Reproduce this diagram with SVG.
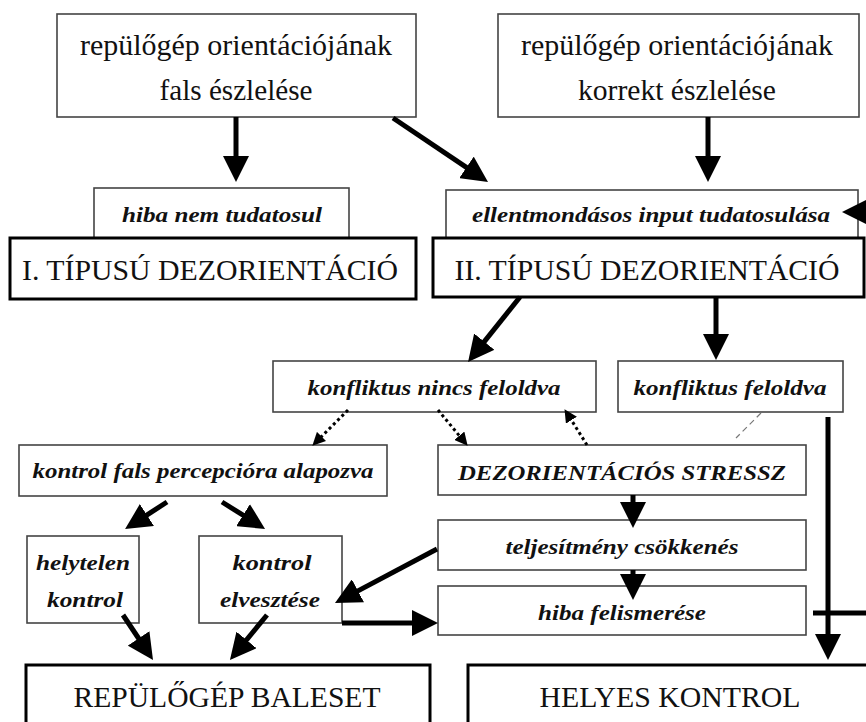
<svg xmlns="http://www.w3.org/2000/svg" width="866" height="722" viewBox="0 0 866 722">
<style>
.bx{fill:#fff;stroke:#444;stroke-width:1.6}
.bk{fill:#fff;stroke:#000;stroke-width:3}
.t{font-family:"Liberation Serif","Times New Roman","DejaVu Serif",serif;fill:#111;text-anchor:middle}
.big{font-size:30px}
.lg{font-size:30px}
.it{font-style:italic;font-weight:bold;font-size:21px}
.a{stroke:#000;stroke-width:5;fill:none;marker-end:url(#ah)}
.d{stroke:#000;stroke-width:3;fill:none;stroke-dasharray:3 3;marker-end:url(#sh)}
</style>
<defs>
<marker id="ah" markerUnits="userSpaceOnUse" markerWidth="26" markerHeight="26" viewBox="0 0 26 26" refX="8" refY="13" orient="auto"><path d="M0,0 L26,13 L0,26 z" fill="#000"/></marker>
<marker id="sh" markerUnits="userSpaceOnUse" markerWidth="13" markerHeight="13" viewBox="0 0 13 13" refX="4" refY="6.5" orient="auto"><path d="M0,0 L13,6.5 L0,13 z" fill="#000"/></marker>
</defs>
<rect width="866" height="722" fill="#fff"/>

<g id="n-fals">
<rect class="bx" x="57" y="14" width="359" height="103"/>
<text class="t big" x="236" y="55" textLength="312" lengthAdjust="spacingAndGlyphs">repülőgép orientációjának</text>
<text class="t big" x="236" y="100" textLength="153" lengthAdjust="spacingAndGlyphs">fals észlelése</text>
</g>
<g id="n-korrekt">
<rect class="bx" x="498" y="14" width="361" height="103"/>
<text class="t big" x="677" y="55" textLength="312" lengthAdjust="spacingAndGlyphs">repülőgép orientációjának</text>
<text class="t big" x="677" y="100" textLength="198" lengthAdjust="spacingAndGlyphs">korrekt észlelése</text>
</g>
<g id="n-hiba-nem">
<rect class="bx" x="94" y="188" width="255" height="52"/>
<text class="t it" x="222" y="222" textLength="200" lengthAdjust="spacingAndGlyphs">hiba nem tudatosul</text>
</g>
<g id="n-ellent">
<rect class="bx" x="446" y="190" width="412" height="50"/>
<text class="t it" x="651" y="222" textLength="358" lengthAdjust="spacingAndGlyphs">ellentmondásos input tudatosulása</text>
</g>
<g id="n-tipus1">
<rect class="bk" x="10" y="238" width="406" height="61"/>
<text class="t lg" x="210" y="280" textLength="376" lengthAdjust="spacingAndGlyphs">I. TÍPUSÚ DEZORIENTÁCIÓ</text>
</g>
<g id="n-tipus2">
<rect class="bk" x="433" y="238" width="431" height="59"/>
<text class="t lg" x="647" y="280" textLength="385" lengthAdjust="spacingAndGlyphs">II. TÍPUSÚ DEZORIENTÁCIÓ</text>
</g>
<g id="n-nincs">
<rect class="bx" x="273" y="361" width="323" height="51"/>
<text class="t it" x="434" y="395" textLength="253" lengthAdjust="spacingAndGlyphs">konfliktus nincs feloldva</text>
</g>
<g id="n-feloldva">
<rect class="bx" x="618" y="361" width="225" height="51"/>
<text class="t it" x="730" y="395" textLength="193" lengthAdjust="spacingAndGlyphs">konfliktus feloldva</text>
</g>
<g id="n-kontrol-fals">
<rect class="bx" x="19" y="445" width="368" height="51"/>
<text class="t it" x="203" y="478" textLength="341" lengthAdjust="spacingAndGlyphs">kontrol fals percepcióra alapozva</text>
</g>
<g id="n-stressz">
<rect class="bx" x="438" y="445" width="368" height="50"/>
<text class="t it" x="622" y="480" textLength="328" lengthAdjust="spacingAndGlyphs">DEZORIENTÁCIÓS STRESSZ</text>
</g>
<g id="n-teljesitmeny">
<rect class="bx" x="438" y="520" width="368" height="50"/>
<text class="t it" x="622" y="554" textLength="233" lengthAdjust="spacingAndGlyphs">teljesítmény csökkenés</text>
</g>
<g id="n-felismerese">
<rect class="bx" x="438" y="586" width="368" height="49"/>
<text class="t it" x="622" y="620" textLength="168" lengthAdjust="spacingAndGlyphs">hiba felismerése</text>
</g>
<g id="n-helytelen">
<rect class="bx" x="27" y="536" width="112" height="87"/>
<text class="t it" x="83" y="570" textLength="94" lengthAdjust="spacingAndGlyphs">helytelen</text>
<text class="t it" x="85" y="607" textLength="76" lengthAdjust="spacingAndGlyphs">kontrol</text>
</g>
<g id="n-elvesztese">
<rect class="bx" x="199" y="536" width="143" height="87"/>
<text class="t it" x="272" y="570" textLength="79" lengthAdjust="spacingAndGlyphs">kontrol</text>
<text class="t it" x="270" y="607" textLength="100" lengthAdjust="spacingAndGlyphs">elvesztése</text>
</g>
<g id="n-baleset">
<rect class="bk" x="26" y="665" width="404" height="80"/>
<text class="t lg" x="227" y="707" textLength="307" lengthAdjust="spacingAndGlyphs">REPÜLŐGÉP BALESET</text>
</g>
<g id="n-helyes">
<rect class="bk" x="468" y="665" width="420" height="80"/>
<text class="t lg" x="670" y="707" textLength="261" lengthAdjust="spacingAndGlyphs">HELYES KONTROL</text>
</g>

<g id="connectors">
<line class="a" x1="236" y1="117" x2="236" y2="164"/>
<line class="a" x1="393" y1="118" x2="473.1" y2="171.9"/>
<line class="a" x1="708" y1="117" x2="708" y2="164"/>
<line class="a" x1="872" y1="212" x2="860" y2="212"/>
<line class="a" x1="520" y1="297" x2="479.3" y2="347.9"/>
<line class="a" x1="716" y1="297" x2="716" y2="342"/>
<line class="a" x1="828" y1="417" x2="828" y2="642"/>
<line stroke="#000" stroke-width="5" x1="813" y1="613" x2="866" y2="613"/>
<line class="a" x1="633" y1="495" x2="633" y2="510"/>
<line class="a" x1="633" y1="570" x2="633" y2="582"/>
<line class="a" x1="167" y1="502" x2="140.2" y2="519.3"/>
<line class="a" x1="222" y1="502" x2="249.8" y2="519.4"/>
<line class="a" x1="437" y1="549" x2="350.9" y2="594.6"/>
<line class="a" x1="342" y1="623" x2="420" y2="623"/>
<line class="a" x1="123" y1="615" x2="143" y2="645"/>
<line class="a" x1="267" y1="615" x2="241.4" y2="646.1"/>
<line class="d" x1="348" y1="410" x2="318.7" y2="439.3"/>
<line class="d" x1="438" y1="410" x2="461.9" y2="438.8"/>
<line class="d" x1="587" y1="445" x2="569.3" y2="416.8"/>
<line stroke="#777" stroke-width="1.2" stroke-dasharray="6 4" x1="761" y1="413" x2="736" y2="438"/>
</g>
</svg>
